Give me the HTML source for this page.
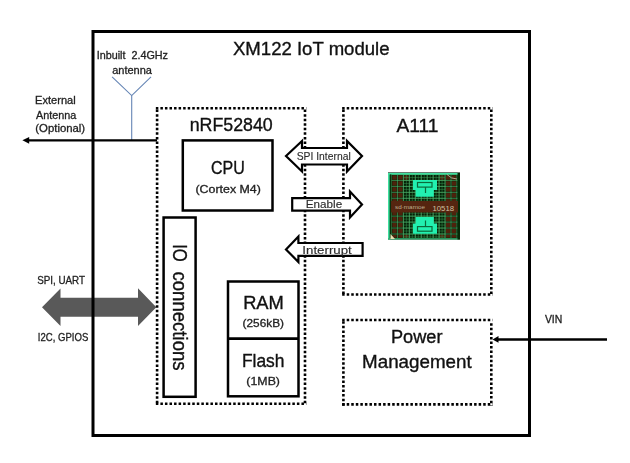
<!DOCTYPE html>
<html><head><meta charset="utf-8"><style>
html,body{margin:0;padding:0;background:#fff;}
svg{display:block;}
text{font-family:"Liberation Sans", sans-serif;}
</style></head><body>
<svg width="630" height="463" viewBox="0 0 630 463">
<rect width="630" height="463" fill="#fff"/>

<!-- grey double arrow -->
<polygon points="42,307.2 60.5,288.5 60.5,297.8 138,297.8 138,288.3 156.3,307.2 138,326 138,316.7 60.5,316.7 60.5,326" fill="#595959"/>
<!-- outer box -->
<rect x="93" y="31.5" width="436.5" height="404" fill="none" stroke="#000" stroke-width="3"/>
<!-- antenna -->
<polyline points="112.1,76.8 131.7,95.6 151,76.8" fill="none" stroke="#6585b5" stroke-width="1.1"/>
<line x1="131.7" y1="95.6" x2="131.7" y2="140" stroke="#6585b5" stroke-width="1.1"/>
<!-- external antenna line -->
<line x1="28" y1="140.3" x2="157" y2="140.3" stroke="#000" stroke-width="2.3"/>
<polygon points="22.4,140.3 29.2,136.9 29.2,143.7" fill="#000"/>
<!-- dotted boxes -->
<path d="M155.85,108.3 H306.30" stroke="#000" stroke-width="2.6" stroke-dasharray="2.5 2.05" fill="none"/><path d="M155.85,403.7 H306.30" stroke="#000" stroke-width="2.6" stroke-dasharray="2.5 2.05" fill="none"/><path d="M157.1,109.60 V405.00" stroke="#000" stroke-width="2.6" stroke-dasharray="2.5 2.05" fill="none"/><path d="M305,109.60 V405.00" stroke="#000" stroke-width="2.6" stroke-dasharray="2.5 2.05" fill="none"/>
<path d="M342.15,108.3 H492.60" stroke="#000" stroke-width="2.6" stroke-dasharray="2.5 2.05" fill="none"/><path d="M342.15,294.5 H492.60" stroke="#000" stroke-width="2.6" stroke-dasharray="2.5 2.05" fill="none"/><path d="M343.4,109.60 V295.80" stroke="#000" stroke-width="2.6" stroke-dasharray="2.5 2.05" fill="none"/><path d="M491.3,109.60 V295.80" stroke="#000" stroke-width="2.6" stroke-dasharray="2.5 2.05" fill="none"/>
<path d="M342.15,320 H492.60" stroke="#000" stroke-width="2.6" stroke-dasharray="2.5 2.05" fill="none"/><path d="M342.15,404.4 H492.60" stroke="#000" stroke-width="2.6" stroke-dasharray="2.5 2.05" fill="none"/><path d="M343.4,321.30 V405.70" stroke="#000" stroke-width="2.6" stroke-dasharray="2.5 2.05" fill="none"/><path d="M491.3,323.30 V405.70" stroke="#000" stroke-width="2.6" stroke-dasharray="2.5 2.05" fill="none"/>
<!-- CPU -->
<rect x="182.8" y="140.4" width="89.7" height="70.1" fill="none" stroke="#000" stroke-width="2.5"/>
<!-- IO -->
<rect x="163.6" y="217.5" width="32" height="179.3" fill="none" stroke="#000" stroke-width="2.5"/>
<!-- RAM/Flash -->
<rect x="228" y="281.5" width="70.5" height="114.8" fill="none" stroke="#000" stroke-width="2.5"/>
<line x1="228" y1="338.7" x2="298.5" y2="338.7" stroke="#000" stroke-width="2.7"/>
<!-- VIN arrow -->
<line x1="497" y1="339.5" x2="607" y2="339.5" stroke="#000" stroke-width="2.3"/>
<polygon points="492.5,339.4 498.5,336.1 498.5,342.7" fill="#000"/>
<!-- inter arrows -->
<polygon points="286,156 302,141 302,148 347,148 347,141 362,156 347,171.5 347,164.5 302,164.5 302,171.5" fill="#fff" stroke="#000" stroke-width="2.2" stroke-linejoin="miter"/>
<polygon points="292.2,198.2 350,198.2 350,191.5 362,204.4 350,217.5 350,210.7 292.2,210.7" fill="#fff" stroke="#000" stroke-width="2.2"/>
<polygon points="286,249.4 298.4,236.5 298.4,243 362.6,243 362.6,255.8 298.4,255.8 298.4,262" fill="#fff" stroke="#000" stroke-width="2.2"/>

<rect x="388" y="172" width="72" height="67.5" fill="#032006"/><rect x="392.30" y="175.30" width="4.35" height="4.35" fill="#4e220c"/><rect x="392.30" y="181.25" width="4.35" height="4.35" fill="#4e220c"/><rect x="392.30" y="187.20" width="4.35" height="4.35" fill="#4e220c"/><rect x="392.30" y="193.15" width="4.35" height="4.35" fill="#4e220c"/><rect x="392.30" y="199.10" width="4.35" height="4.35" fill="#4e220c"/><rect x="392.30" y="205.05" width="4.35" height="4.35" fill="#4e220c"/><rect x="392.30" y="211.00" width="4.35" height="4.35" fill="#4e220c"/><rect x="392.30" y="216.95" width="4.35" height="4.35" fill="#4e220c"/><rect x="392.30" y="222.90" width="4.35" height="4.35" fill="#4e220c"/><rect x="392.30" y="228.85" width="4.35" height="4.35" fill="#4e220c"/><rect x="392.30" y="234.80" width="4.35" height="2.90" fill="#4e220c"/><rect x="398.25" y="175.30" width="4.35" height="4.35" fill="#4e220c"/><rect x="398.25" y="181.25" width="4.35" height="4.35" fill="#4e220c"/><rect x="398.25" y="187.20" width="4.35" height="4.35" fill="#4e220c"/><rect x="398.25" y="193.15" width="4.35" height="4.35" fill="#4e220c"/><rect x="398.25" y="199.10" width="4.35" height="4.35" fill="#4e220c"/><rect x="398.25" y="205.05" width="4.35" height="4.35" fill="#4e220c"/><rect x="398.25" y="211.00" width="4.35" height="4.35" fill="#4e220c"/><rect x="398.25" y="216.95" width="4.35" height="4.35" fill="#4e220c"/><rect x="398.25" y="222.90" width="4.35" height="4.35" fill="#4e220c"/><rect x="398.25" y="228.85" width="4.35" height="4.35" fill="#4e220c"/><rect x="398.25" y="234.80" width="4.35" height="2.90" fill="#4e220c"/><rect x="404.20" y="175.30" width="4.35" height="4.35" fill="#4e220c"/><rect x="404.20" y="234.80" width="4.35" height="2.90" fill="#4e220c"/><rect x="439.90" y="175.30" width="4.35" height="4.35" fill="#4e220c"/><rect x="439.90" y="234.80" width="4.35" height="2.90" fill="#4e220c"/><rect x="445.85" y="175.30" width="4.35" height="4.35" fill="#4e220c"/><rect x="445.85" y="181.25" width="4.35" height="4.35" fill="#4e220c"/><rect x="445.85" y="187.20" width="4.35" height="4.35" fill="#4e220c"/><rect x="445.85" y="193.15" width="4.35" height="4.35" fill="#4e220c"/><rect x="445.85" y="199.10" width="4.35" height="4.35" fill="#4e220c"/><rect x="445.85" y="205.05" width="4.35" height="4.35" fill="#4e220c"/><rect x="445.85" y="211.00" width="4.35" height="4.35" fill="#4e220c"/><rect x="445.85" y="216.95" width="4.35" height="4.35" fill="#4e220c"/><rect x="445.85" y="222.90" width="4.35" height="4.35" fill="#4e220c"/><rect x="445.85" y="228.85" width="4.35" height="4.35" fill="#4e220c"/><rect x="445.85" y="234.80" width="4.35" height="2.90" fill="#4e220c"/><rect x="451.80" y="175.30" width="4.35" height="4.35" fill="#4e220c"/><rect x="451.80" y="181.25" width="4.35" height="4.35" fill="#4e220c"/><rect x="451.80" y="187.20" width="4.35" height="4.35" fill="#4e220c"/><rect x="451.80" y="193.15" width="4.35" height="4.35" fill="#4e220c"/><rect x="451.80" y="199.10" width="4.35" height="4.35" fill="#4e220c"/><rect x="451.80" y="205.05" width="4.35" height="4.35" fill="#4e220c"/><rect x="451.80" y="211.00" width="4.35" height="4.35" fill="#4e220c"/><rect x="451.80" y="216.95" width="4.35" height="4.35" fill="#4e220c"/><rect x="451.80" y="222.90" width="4.35" height="4.35" fill="#4e220c"/><rect x="451.80" y="228.85" width="4.35" height="4.35" fill="#4e220c"/><rect x="451.80" y="234.80" width="4.35" height="2.90" fill="#4e220c"/><line x1="403.40" y1="175" x2="403.40" y2="238.0" stroke="#3a9050" stroke-width="0.5"/><line x1="406.38" y1="175" x2="406.38" y2="238.0" stroke="#3a9050" stroke-width="0.5"/><line x1="409.35" y1="175" x2="409.35" y2="238.0" stroke="#3a9050" stroke-width="0.5"/><line x1="412.32" y1="175" x2="412.32" y2="238.0" stroke="#3a9050" stroke-width="0.5"/><line x1="415.30" y1="175" x2="415.30" y2="238.0" stroke="#3a9050" stroke-width="0.5"/><line x1="418.27" y1="175" x2="418.27" y2="238.0" stroke="#3a9050" stroke-width="0.5"/><line x1="421.25" y1="175" x2="421.25" y2="238.0" stroke="#3a9050" stroke-width="0.5"/><line x1="424.22" y1="175" x2="424.22" y2="238.0" stroke="#3a9050" stroke-width="0.5"/><line x1="427.20" y1="175" x2="427.20" y2="238.0" stroke="#3a9050" stroke-width="0.5"/><line x1="430.17" y1="175" x2="430.17" y2="238.0" stroke="#3a9050" stroke-width="0.5"/><line x1="433.15" y1="175" x2="433.15" y2="238.0" stroke="#3a9050" stroke-width="0.5"/><line x1="436.12" y1="175" x2="436.12" y2="238.0" stroke="#3a9050" stroke-width="0.5"/><line x1="439.10" y1="175" x2="439.10" y2="238.0" stroke="#3a9050" stroke-width="0.5"/><line x1="442.07" y1="175" x2="442.07" y2="238.0" stroke="#3a9050" stroke-width="0.5"/><line x1="445.05" y1="175" x2="445.05" y2="238.0" stroke="#3a9050" stroke-width="0.5"/><line x1="403.40" y1="174.50" x2="445.05" y2="174.50" stroke="#3a9050" stroke-width="0.5"/><line x1="403.40" y1="177.47" x2="445.05" y2="177.47" stroke="#3a9050" stroke-width="0.5"/><line x1="403.40" y1="180.45" x2="445.05" y2="180.45" stroke="#3a9050" stroke-width="0.5"/><line x1="403.40" y1="183.43" x2="445.05" y2="183.43" stroke="#3a9050" stroke-width="0.5"/><line x1="403.40" y1="186.40" x2="445.05" y2="186.40" stroke="#3a9050" stroke-width="0.5"/><line x1="403.40" y1="189.38" x2="445.05" y2="189.38" stroke="#3a9050" stroke-width="0.5"/><line x1="403.40" y1="192.35" x2="445.05" y2="192.35" stroke="#3a9050" stroke-width="0.5"/><line x1="403.40" y1="195.32" x2="445.05" y2="195.32" stroke="#3a9050" stroke-width="0.5"/><line x1="403.40" y1="198.30" x2="445.05" y2="198.30" stroke="#3a9050" stroke-width="0.5"/><line x1="403.40" y1="201.28" x2="445.05" y2="201.28" stroke="#3a9050" stroke-width="0.5"/><line x1="403.40" y1="204.25" x2="445.05" y2="204.25" stroke="#3a9050" stroke-width="0.5"/><line x1="403.40" y1="207.22" x2="445.05" y2="207.22" stroke="#3a9050" stroke-width="0.5"/><line x1="403.40" y1="210.20" x2="445.05" y2="210.20" stroke="#3a9050" stroke-width="0.5"/><line x1="403.40" y1="213.18" x2="445.05" y2="213.18" stroke="#3a9050" stroke-width="0.5"/><line x1="403.40" y1="216.15" x2="445.05" y2="216.15" stroke="#3a9050" stroke-width="0.5"/><line x1="403.40" y1="219.12" x2="445.05" y2="219.12" stroke="#3a9050" stroke-width="0.5"/><line x1="403.40" y1="222.10" x2="445.05" y2="222.10" stroke="#3a9050" stroke-width="0.5"/><line x1="403.40" y1="225.07" x2="445.05" y2="225.07" stroke="#3a9050" stroke-width="0.5"/><line x1="403.40" y1="228.05" x2="445.05" y2="228.05" stroke="#3a9050" stroke-width="0.5"/><line x1="403.40" y1="231.03" x2="445.05" y2="231.03" stroke="#3a9050" stroke-width="0.5"/><line x1="403.40" y1="234.00" x2="445.05" y2="234.00" stroke="#3a9050" stroke-width="0.5"/><line x1="403.40" y1="236.97" x2="445.05" y2="236.97" stroke="#3a9050" stroke-width="0.5"/><line x1="391.50" y1="175" x2="391.50" y2="238.0" stroke="#4fae6a" stroke-width="0.65"/><line x1="397.45" y1="175" x2="397.45" y2="238.0" stroke="#4fae6a" stroke-width="0.65"/><line x1="403.40" y1="175" x2="403.40" y2="238.0" stroke="#4fae6a" stroke-width="0.65"/><line x1="409.35" y1="175" x2="409.35" y2="238.0" stroke="#4fae6a" stroke-width="0.65"/><line x1="415.30" y1="175" x2="415.30" y2="238.0" stroke="#4fae6a" stroke-width="0.65"/><line x1="421.25" y1="175" x2="421.25" y2="238.0" stroke="#4fae6a" stroke-width="0.65"/><line x1="427.20" y1="175" x2="427.20" y2="238.0" stroke="#4fae6a" stroke-width="0.65"/><line x1="433.15" y1="175" x2="433.15" y2="238.0" stroke="#4fae6a" stroke-width="0.65"/><line x1="439.10" y1="175" x2="439.10" y2="238.0" stroke="#4fae6a" stroke-width="0.65"/><line x1="445.05" y1="175" x2="445.05" y2="238.0" stroke="#4fae6a" stroke-width="0.65"/><line x1="451.00" y1="175" x2="451.00" y2="238.0" stroke="#4fae6a" stroke-width="0.65"/><line x1="456.95" y1="175" x2="456.95" y2="238.0" stroke="#4fae6a" stroke-width="0.65"/><line x1="391" y1="174.50" x2="458" y2="174.50" stroke="#4fae6a" stroke-width="0.65"/><line x1="391" y1="180.45" x2="458" y2="180.45" stroke="#4fae6a" stroke-width="0.65"/><line x1="391" y1="186.40" x2="458" y2="186.40" stroke="#4fae6a" stroke-width="0.65"/><line x1="391" y1="192.35" x2="458" y2="192.35" stroke="#4fae6a" stroke-width="0.65"/><line x1="391" y1="198.30" x2="458" y2="198.30" stroke="#4fae6a" stroke-width="0.65"/><line x1="391" y1="204.25" x2="458" y2="204.25" stroke="#4fae6a" stroke-width="0.65"/><line x1="391" y1="210.20" x2="458" y2="210.20" stroke="#4fae6a" stroke-width="0.65"/><line x1="391" y1="216.15" x2="458" y2="216.15" stroke="#4fae6a" stroke-width="0.65"/><line x1="391" y1="222.10" x2="458" y2="222.10" stroke="#4fae6a" stroke-width="0.65"/><line x1="391" y1="228.05" x2="458" y2="228.05" stroke="#4fae6a" stroke-width="0.65"/><line x1="391" y1="234.00" x2="458" y2="234.00" stroke="#4fae6a" stroke-width="0.65"/><line x1="388" y1="172.5" x2="460" y2="172.5" stroke="#6a7a70" stroke-width="1"/><rect x="388" y="173" width="70" height="1.6" fill="#40e0a0"/><rect x="388" y="173" width="1.8" height="66.5" fill="#40e0a0"/><rect x="389.8" y="174.6" width="1.6" height="64" fill="#05300c"/><rect x="388" y="238.2" width="71" height="1.3" fill="#30b070"/><rect x="457.5" y="173" width="2.5" height="66.5" fill="#052a08"/><rect x="391" y="201" width="67" height="11.5" fill="#552510"/><text x="395" y="209.3" font-size="4.5" fill="#bfae90" textLength="30" lengthAdjust="spacingAndGlyphs">sd·mamoe</text><text x="432.5" y="210.7" font-size="8" fill="#d0c0a0" textLength="21.5" lengthAdjust="spacingAndGlyphs">10518</text><path d="M413,180 H437 V190 H433.8 V196.7 H415.7 V190 H413 Z" fill="#22f0b0"/><rect x="417.5" y="182.5" width="14.5" height="4.6" fill="none" stroke="#0b6a3a" stroke-width="1.2"/><line x1="425.5" y1="187" x2="425.5" y2="193" stroke="#0b6a3a" stroke-width="1.2"/><path d="M415.7,216.9 H433.8 V223.5 H437 V233.8 H413 V223.5 H415.7 Z" fill="#22f0b0"/><rect x="417.5" y="226.6" width="14.5" height="4.6" fill="none" stroke="#0b6a3a" stroke-width="1.2"/><line x1="425.5" y1="220.5" x2="425.5" y2="226.6" stroke="#0b6a3a" stroke-width="1.2"/><path d="M390.5,239 L390.5,234 L395,239 Z" fill="#e8e0b0"/><path d="M447,174.5 Q451,179 457,179" fill="none" stroke="#c8c8b0" stroke-width="0.8"/>
<g opacity="0.999"><text transform="translate(232.93 54.7) scale(1.0069 1)" font-size="18.46" fill="#111" stroke="#111" stroke-width="0.35">XM122 IoT module</text>
<text transform="translate(96.63 59.3) scale(1.0044 1)" font-size="10.76" fill="#222" stroke="#222" stroke-width="0.3">Inbuilt  2.4GHz</text>
<text transform="translate(112.16 73.5) scale(1.0236 1)" font-size="10.76" fill="#222" stroke="#222" stroke-width="0.3">antenna</text>
<text transform="translate(35.12 103.8) scale(1.0282 1)" font-size="10.76" fill="#222" stroke="#222" stroke-width="0.3">External</text>
<text transform="translate(36 118.6) scale(1.0071 1)" font-size="10.76" fill="#222" stroke="#222" stroke-width="0.3">Antenna</text>
<text transform="translate(35.32 132.4) scale(1.0554 1)" font-size="10.76" fill="#222" stroke="#222" stroke-width="0.3">(Optional)</text>
<text transform="translate(189.64 131.4) scale(0.9966 1)" font-size="17.88" fill="#111" stroke="#111" stroke-width="0.35">nRF52840</text>
<text transform="translate(396.4 131.7) scale(1.0264 1)" font-size="18.75" fill="#111" stroke="#111" stroke-width="0.35">A111</text>
<text transform="translate(211 173.9) scale(0.8682 1)" font-size="18.46" fill="#111" stroke="#111" stroke-width="0.35">CPU</text>
<text transform="translate(195.46 192.6) scale(1.1851 1)" font-size="10.47" fill="#222" stroke="#222" stroke-width="0.3">(Cortex M4)</text>
<text transform="translate(243.13 308.8) scale(1.0079 1)" font-size="18.17" fill="#111" stroke="#111" stroke-width="0.35">RAM</text>
<text transform="translate(242.59 326.7) scale(1.1142 1)" font-size="10.61" fill="#222" stroke="#222" stroke-width="0.3">(256kB)</text>
<text transform="translate(241.9 366.7) scale(0.9680 1)" font-size="18.02" fill="#111" stroke="#111" stroke-width="0.35">Flash</text>
<text transform="translate(246.36 384.6) scale(1.1342 1)" font-size="10.9" fill="#222" stroke="#222" stroke-width="0.3">(1MB)</text>
<text transform="translate(390.94 342.7) scale(1.0099 1)" font-size="18.02" fill="#111" stroke="#111" stroke-width="0.35">Power</text>
<text transform="translate(362.1 367.5) scale(1.0498 1)" font-size="17.88" fill="#111" stroke="#111" stroke-width="0.35">Management</text>
<text transform="translate(544.9 322.8) scale(0.9977 1)" font-size="10.47" fill="#222" stroke="#222" stroke-width="0.3">VIN</text>
<text transform="translate(37.16 283.9) scale(0.9131 1)" font-size="10.76" fill="#222" stroke="#222" stroke-width="0.3">SPI, UART</text>
<text transform="translate(37.84 340.9) scale(0.8905 1)" font-size="10.76" fill="#222" stroke="#222" stroke-width="0.3">I2C, GPIOS</text>
<text transform="translate(296.73 160.2) scale(0.9741 1)" font-size="10.61" fill="#2a2a2a" stroke="#2a2a2a" stroke-width="0.12">SPI Internal</text>
<text transform="translate(305.76 208.1) scale(1.1022 1)" font-size="10.61" fill="#2a2a2a" stroke="#2a2a2a" stroke-width="0.12">Enable</text>
<text transform="translate(302.3 254) scale(1.2536 1)" font-size="10.61" fill="#2a2a2a" stroke="#2a2a2a" stroke-width="0.12">Interrupt</text>
<text transform="translate(172.7 244.2) rotate(90) scale(0.8623 1)" font-size="19.33" fill="#111" stroke="#111" stroke-width="0.35">IO</text>
<text transform="translate(172.7 271.46) rotate(90) scale(0.9614 1)" font-size="19.33" fill="#111" stroke="#111" stroke-width="0.35">connections</text></g>
</svg>
</body></html>
